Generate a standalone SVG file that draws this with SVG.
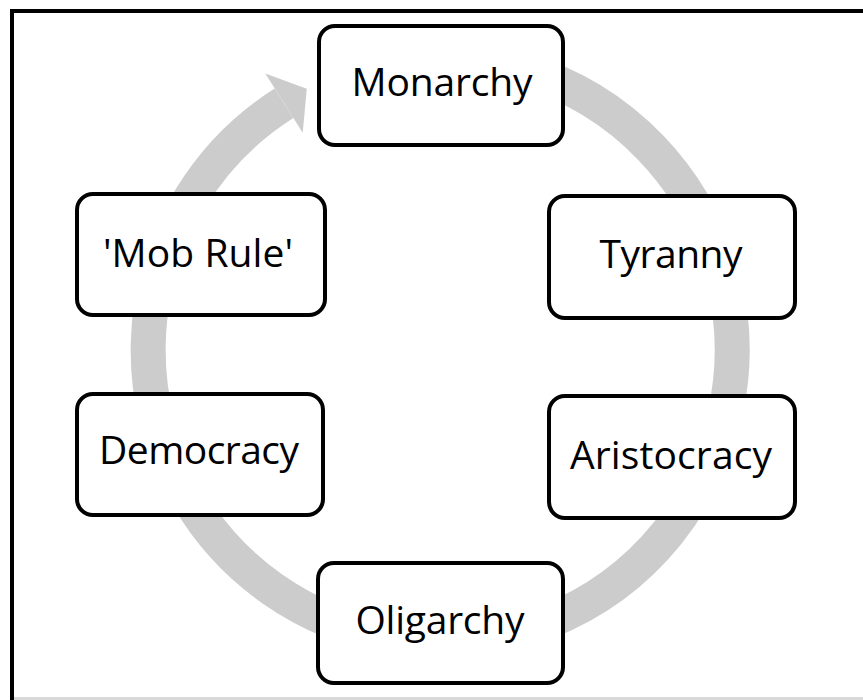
<svg xmlns="http://www.w3.org/2000/svg" width="863" height="700" viewBox="0 0 863 700">
  <style>
    .node rect { fill: #ffffff; stroke: #000000; stroke-width: 4; }
    .node text { font-family: "Open Sans", "Liberation Sans", sans-serif; font-size: 39px; fill: #000000; text-anchor: middle; }
    .ring { fill: none; stroke: #cccccc; stroke-width: 35; }
    .head { fill: #cccccc; }
  </style>
  <rect x="0" y="0" width="863" height="700" fill="#ffffff"/>
  <g id="frame">
    <path d="M12 700 V11 H863" fill="none" stroke="#000000" stroke-width="4"/>
    <line x1="14" y1="698.5" x2="863" y2="698.5" stroke="#d9d9d9" stroke-width="3"/>
  </g>
  <g id="connectors">
    <path class="ring" d="M389.3 62.4 A292 292 0 1 1 284 103.2"/>
    <polygon class="head" points="265.3,73.6 306.8,88.8 302.7,132.8"/>
  </g>
  <g id="monarchy" class="node">
    <rect x="319" y="26" width="244" height="119" rx="16"/>
    <text x="442" y="96" textLength="181">Monarchy</text>
  </g>
  <g id="tyranny" class="node">
    <rect x="549" y="196" width="246" height="122" rx="16"/>
    <text x="671" y="268" textLength="143">Tyranny</text>
  </g>
  <g id="aristocracy" class="node">
    <rect x="549" y="396" width="246" height="122" rx="16"/>
    <text x="671" y="469" textLength="202">Aristocracy</text>
  </g>
  <g id="oligarchy" class="node">
    <rect x="318" y="563" width="245" height="120" rx="16"/>
    <text x="440" y="634" textLength="169">Oligarchy</text>
  </g>
  <g id="democracy" class="node">
    <rect x="77" y="394" width="246" height="121" rx="16"/>
    <text x="199" y="464" textLength="200">Democracy</text>
  </g>
  <g id="mob-rule" class="node">
    <rect x="77" y="194" width="248" height="121" rx="16"/>
    <text x="198" y="267" textLength="190">'Mob Rule'</text>
  </g>
</svg>
